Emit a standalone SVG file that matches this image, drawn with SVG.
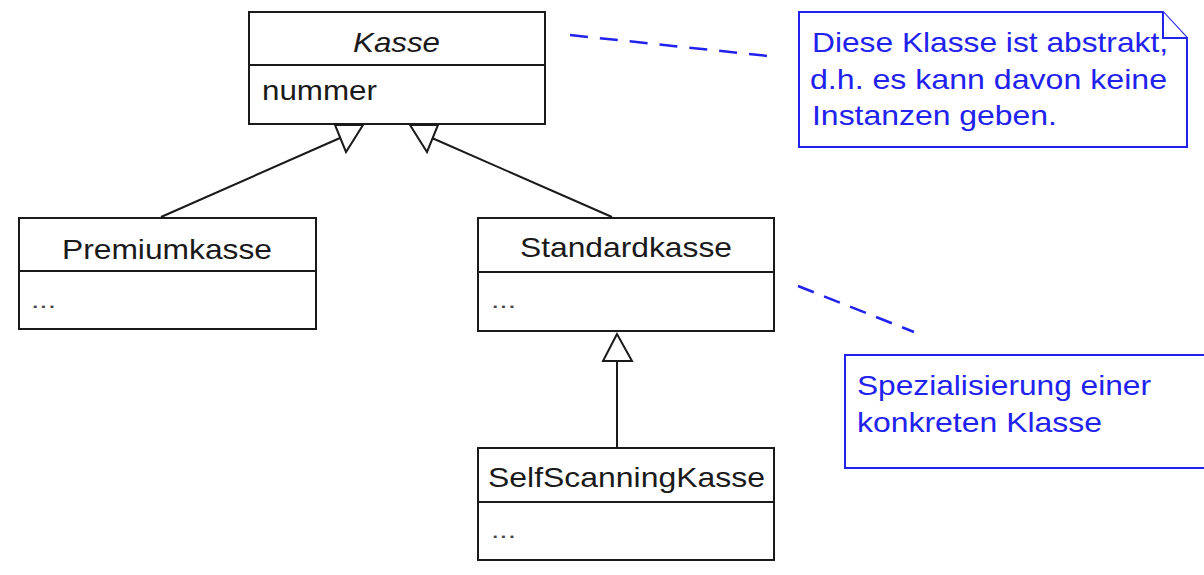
<svg xmlns="http://www.w3.org/2000/svg" width="1204" height="575" viewBox="0 0 1204 575">
<style>
.box{fill:#fff;stroke:#1a1a1a;stroke-width:2}
.div{stroke:#1a1a1a;stroke-width:2}
.t{font-family:"Liberation Sans",Arial,sans-serif;font-size:28px;fill:#1a1a1a}
.dots{font-family:"Liberation Sans",Arial,sans-serif;font-size:22px;fill:#444}
.conn{stroke:#1a1a1a;stroke-width:2;fill:none}
.tri{fill:#fff;stroke:#1a1a1a;stroke-width:2;stroke-linejoin:miter}
.note{fill:#fff;stroke:#2222ee;stroke-width:2}
.nt{font-family:"Liberation Sans",Arial,sans-serif;font-size:28px;fill:#2222ee}
.dash{stroke:#2222ee;stroke-width:2.5;fill:none}
</style>
<rect width="1204" height="575" fill="#fff"/>
<g id="connectors">
<line class="conn" x1="161" y1="217" x2="340" y2="138"/>
<polygon class="tri" points="335,125 363,125 346,152"/>
<line class="conn" x1="612" y1="217" x2="432" y2="138"/>
<polygon class="tri" points="410,125 438,125 427,152"/>
<line class="conn" x1="617" y1="361" x2="617" y2="448"/>
<polygon class="tri" points="617,334 603,361 632,361"/>
<line class="dash" x1="570" y1="35" x2="768" y2="56" stroke-dasharray="18 12"/>
<line class="dash" x1="798" y1="286" x2="914" y2="332" stroke-dasharray="17 11"/>
</g>
<g id="kasse">
<rect class="box" x="249" y="12" width="296" height="112"/>
<line class="div" x1="249" y1="65" x2="545" y2="65"/>
<text class="t" x="353" y="52" font-style="italic" textLength="87" lengthAdjust="spacingAndGlyphs">Kasse</text>
<text class="t" x="262" y="100" textLength="115" lengthAdjust="spacingAndGlyphs">nummer</text>
</g>
<g id="premiumkasse">
<rect class="box" x="19" y="218" width="297" height="111"/>
<line class="div" x1="19" y1="271" x2="316" y2="271"/>
<text class="t" x="62" y="259" textLength="210" lengthAdjust="spacingAndGlyphs">Premiumkasse</text>
<text class="dots" x="31" y="308" textLength="25" lengthAdjust="spacingAndGlyphs">...</text>
</g>
<g id="standardkasse">
<rect class="box" x="478" y="218" width="296" height="113"/>
<line class="div" x1="478" y1="272" x2="774" y2="272"/>
<text class="t" x="520" y="257" textLength="212" lengthAdjust="spacingAndGlyphs">Standardkasse</text>
<text class="dots" x="491" y="308" textLength="25" lengthAdjust="spacingAndGlyphs">...</text>
</g>
<g id="selfscanningkasse">
<rect class="box" x="478" y="448" width="296" height="112"/>
<line class="div" x1="478" y1="502" x2="774" y2="502"/>
<text class="t" x="488" y="487" textLength="277" lengthAdjust="spacingAndGlyphs">SelfScanningKasse</text>
<text class="dots" x="491" y="538" textLength="25" lengthAdjust="spacingAndGlyphs">...</text>
</g>
<g id="note-abstrakt">
<path class="note" d="M799,12 H1163 L1187,38 V147 H799 Z"/>
<path class="note" d="M1163,12 V38 H1187" fill="none"/>
<text class="nt" x="812" y="52" textLength="356" lengthAdjust="spacingAndGlyphs">Diese Klasse ist abstrakt,</text>
<text class="nt" x="810" y="89" textLength="357" lengthAdjust="spacingAndGlyphs">d.h. es kann davon keine</text>
<text class="nt" x="812" y="125" textLength="245" lengthAdjust="spacingAndGlyphs">Instanzen geben.</text>
</g>
<g id="note-spezialisierung">
<rect class="note" x="845" y="355" width="370" height="113"/>
<text class="nt" x="857" y="395" textLength="294" lengthAdjust="spacingAndGlyphs">Spezialisierung einer</text>
<text class="nt" x="857" y="432" textLength="245" lengthAdjust="spacingAndGlyphs">konkreten Klasse</text>
</g>
</svg>
